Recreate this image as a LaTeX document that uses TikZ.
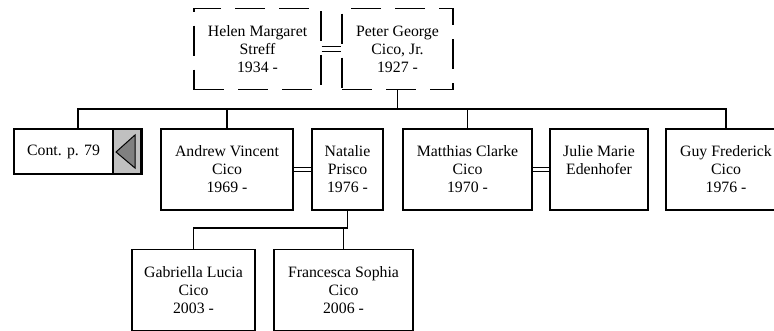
\documentclass[tikz,border=0pt]{standalone}
\usepackage{fontspec}
\setmainfont{Liberation Serif}
\begin{document}
\begin{tikzpicture}[x=1pt,y=-1pt,
  personbox/.style={draw, line width=1.6pt, minimum height=81pt, align=center,
     inner sep=0pt, font=\fontsize{15.8}{18}\selectfont},
  dashbox/.style={personbox, line width=1.1pt, dash pattern=on 30pt off 14pt},
  link/.style={line width=1.5pt},
  marline/.style={line width=1.3pt}]
\useasboundingbox (0,0) rectangle (774,330);
\clip (0,0) rectangle (774,330);
% parents
\node[dashbox, minimum width=127pt] (helen) at (257.5,49) {Helen Margaret\\Streff\\1934 -};
\node[dashbox, minimum width=111pt] (peter) at (397.5,49) {Peter George\\Cico, Jr.\\1927 -};
% children row
\node[personbox, minimum width=128pt, minimum height=45pt] (cont) at (78,151.5) {};
\node[personbox, minimum width=132pt] (andrew) at (227,169.5) {Andrew Vincent\\Cico\\1969 -};
\node[personbox, minimum width=71pt] (natalie) at (347.5,169.5) {Natalie\\Prisco\\1976 -};
\node[personbox, minimum width=129pt] (matthias) at (467.5,169.5) {Matthias Clarke\\Cico\\1970 -};
\node[personbox, minimum width=98pt] (julie) at (599,169.5) {Julie Marie\\Edenhofer\\\mbox{}};
\node[personbox, minimum width=120pt] (guy) at (726,169.5) {Guy Frederick\\Cico\\1976 -};
% grandchildren
\node[personbox, minimum width=123pt] (gabriella) at (193.5,290) {Gabriella Lucia\\Cico\\2003 -};
\node[personbox, minimum width=139pt] (francesca) at (343.5,290) {Francesca Sophia\\Cico\\2006 -};
% continuation box detail
\coordinate (gtl) at (113,129);
\coordinate (gbr) at (142,174);
\fill[fill={rgb,255:red,192;green,192;blue,192}] (gtl) rectangle (gbr);
\draw[line width=1.6pt] (gtl) rectangle (gbr);
\draw[line width=2.8pt] (141.5,128.5) -- (141.5,174.5);
\coordinate (tipA) at (116,152);
\coordinate (tipB) at (135,135);
\coordinate (tipC) at (135,168);
\filldraw[fill={rgb,255:red,128;green,128;blue,128}, draw=black, line width=1pt] (tipA) -- (tipB) -- (tipC) -- cycle;
\node[font=\fontsize{15.8}{18}\selectfont, inner sep=0pt] (contlabel) at (63.5,152) {Cont. p. 79};
% marriages
\foreach \a/\b in {helen/peter, andrew/natalie, matthias/julie}{
  \draw[marline] ([yshift=2.3pt]\a.east) -- ([yshift=2.3pt]\b.west);
  \draw[marline] ([yshift=-2.3pt]\a.east) -- ([yshift=-2.3pt]\b.west);
}
% descent lines
\coordinate (bar) at (0,109);
\draw[link] (peter.south) -- (peter.south |- bar);
\draw[link] (cont.north) -- (cont.north |- bar) -- (guy.north |- bar) -- (guy.north);
\draw[link] (andrew.north) -- (andrew.north |- bar);
\draw[link] (matthias.north) -- (matthias.north |- bar);
\coordinate (bar2) at (0,228);
\draw[link] (natalie.south) -- (natalie.south |- bar2) -- (gabriella.north |- bar2) -- (gabriella.north);
\draw[link] (francesca.north) -- (francesca.north |- bar2);
\end{tikzpicture}
\end{document}
